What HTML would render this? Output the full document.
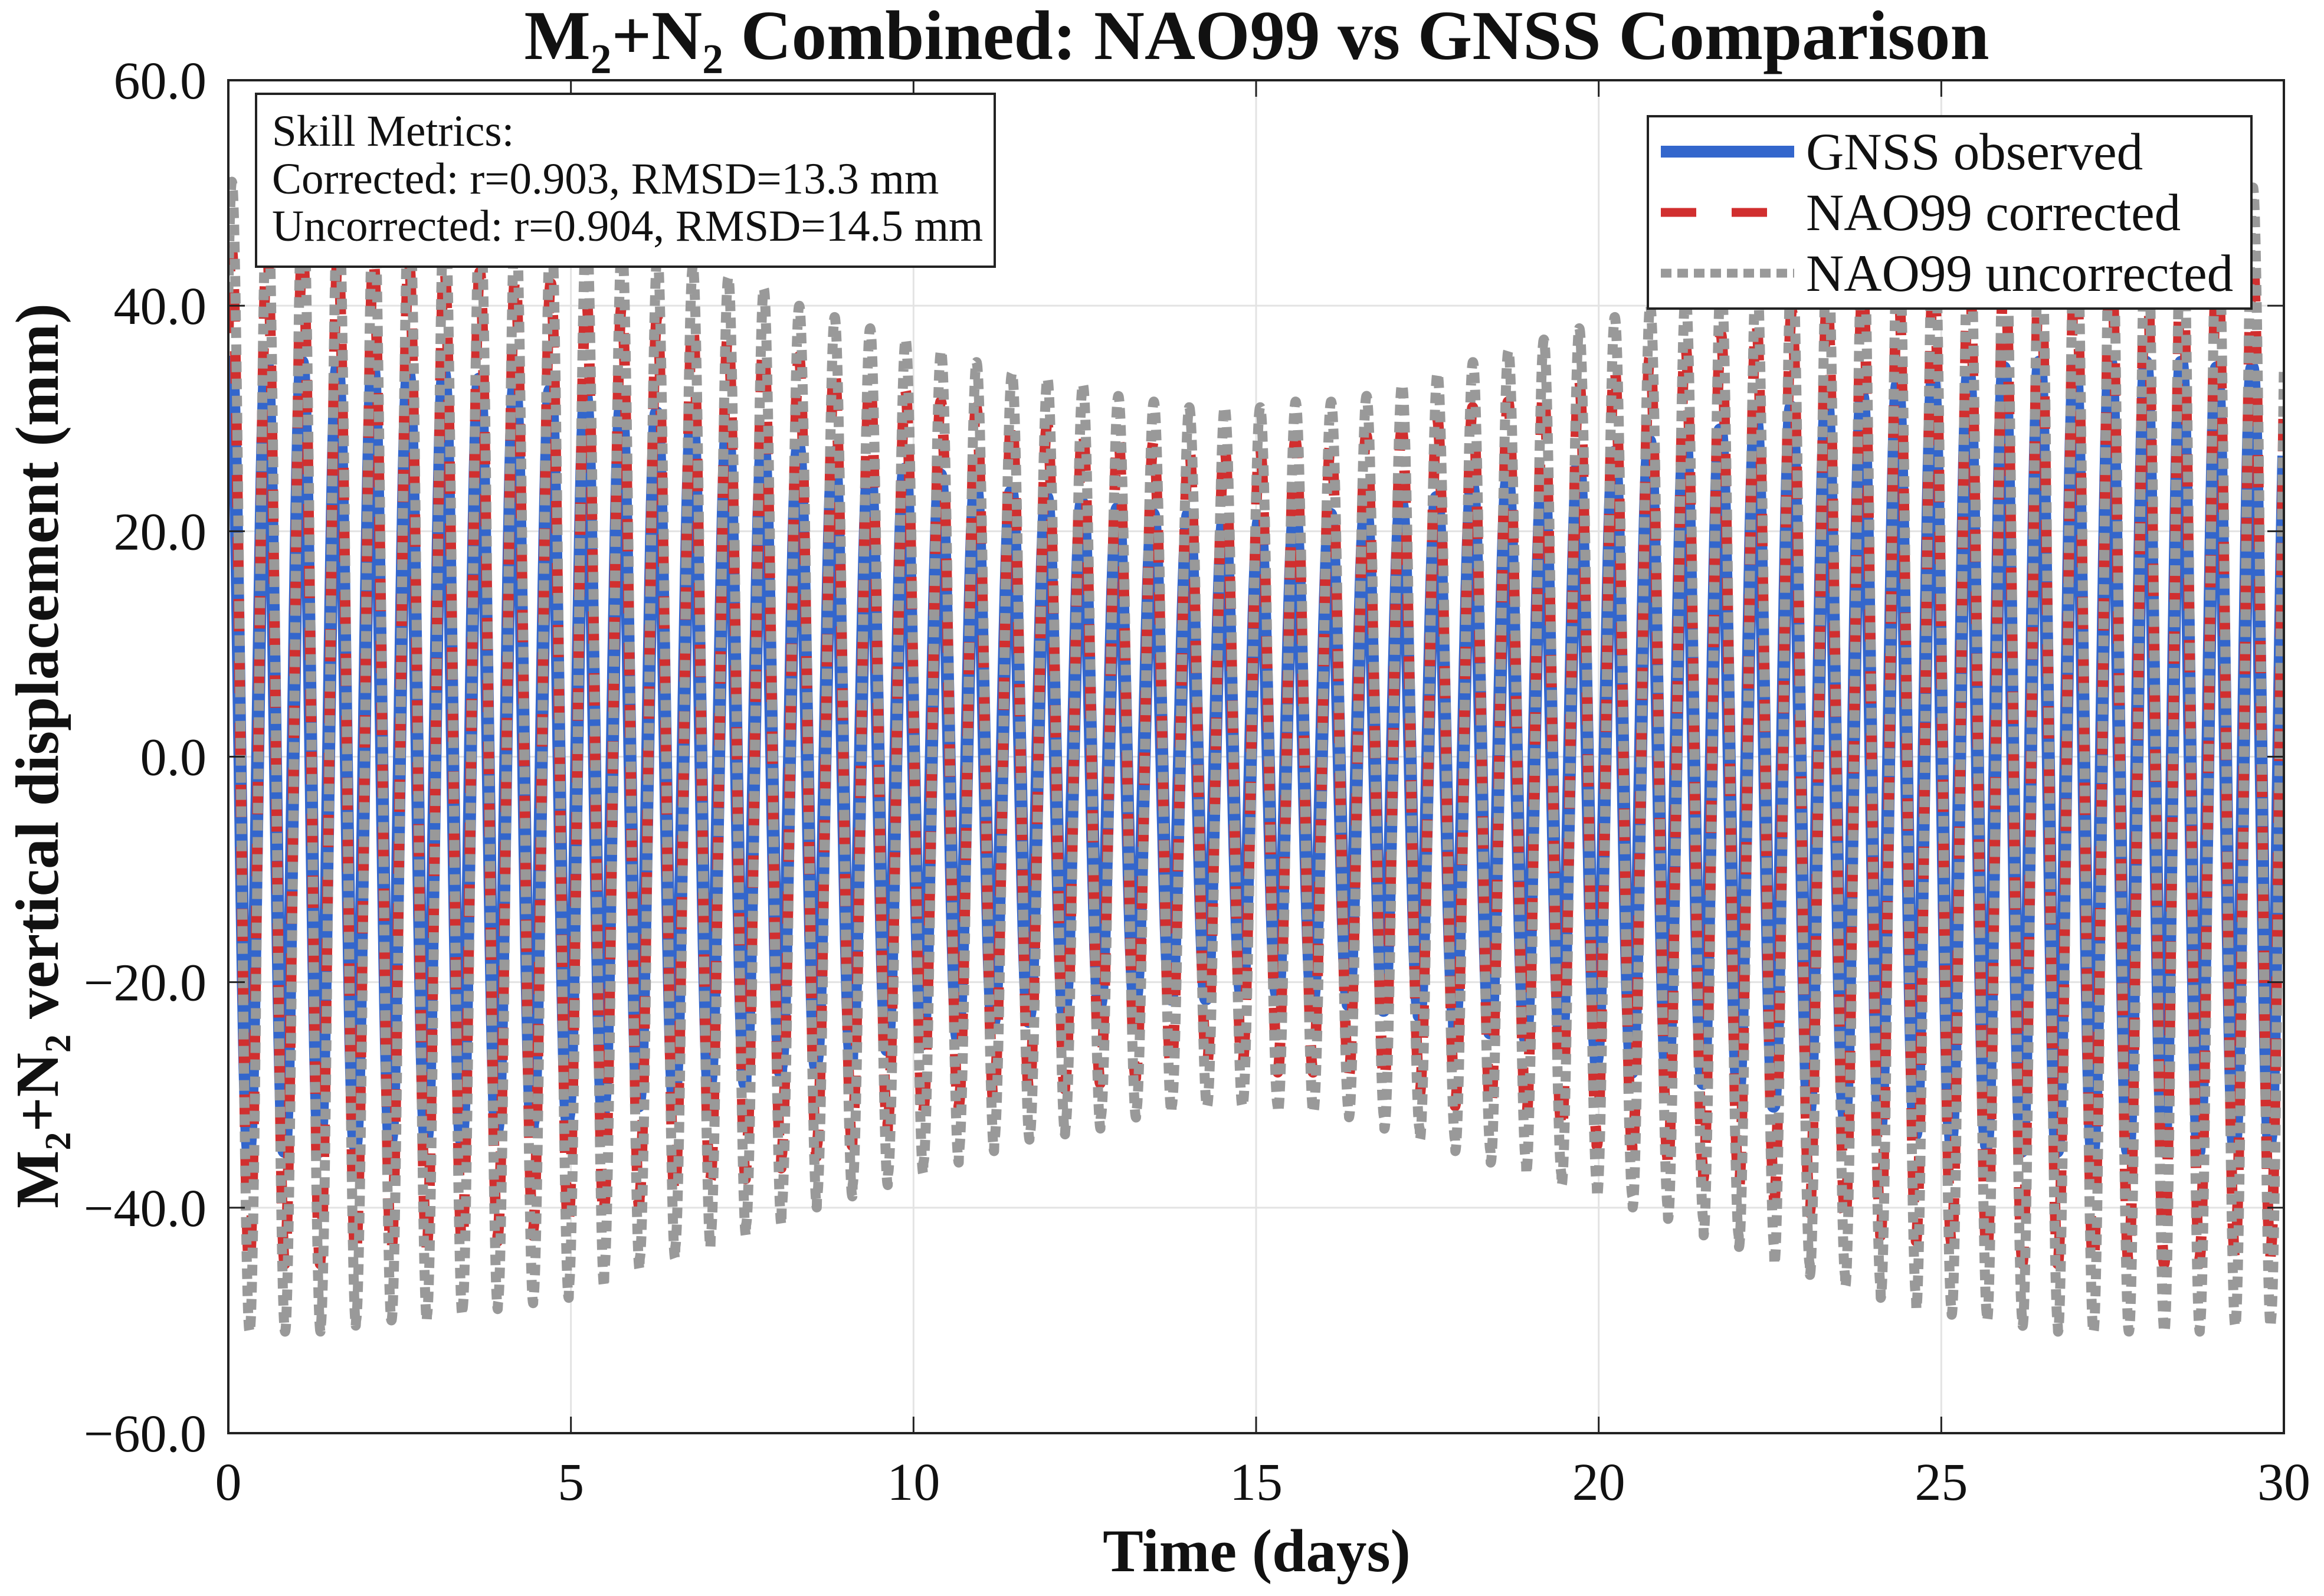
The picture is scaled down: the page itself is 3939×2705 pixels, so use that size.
<!DOCTYPE html>
<html><head><meta charset="utf-8"><style>
html,body{margin:0;padding:0;background:#fff}
svg text{font-family:"Liberation Serif",serif;fill:#111}
</style></head><body>
<svg id="chart" xmlns="http://www.w3.org/2000/svg" width="3939" height="2700" viewBox="0 0 3939 2700">
<rect width="3939" height="2700" fill="#fff"/>
<g id="grid"></g>
<defs><clipPath id="clip"><rect x="387" y="136" width="3484" height="2293"/></clipPath></defs>
<g id="series" clip-path="url(#clip)"></g>
<rect x="387" y="136" width="3484" height="2293" fill="none" stroke="#222" stroke-width="4"/>
<g id="ticks"></g>
<text x="2130" y="100" font-size="119" font-weight="bold" text-anchor="middle">M₂+N₂ Combined: NAO99 vs GNSS Comparison</text>
<text x="2130" y="2663" font-size="103" font-weight="bold" text-anchor="middle">Time (days)</text>
<text transform="translate(98,1281) rotate(-90)" font-size="104" font-weight="bold" text-anchor="middle">M₂+N₂ vertical displacement (mm)</text>
<g>
<rect x="434" y="159" width="1252" height="293" fill="#fff" stroke="#222" stroke-width="4"/>
<text x="461" y="247" font-size="75">Skill Metrics:</text>
<text x="461" y="328" font-size="75">Corrected: r=0.903, RMSD=13.3 mm</text>
<text x="461" y="408" font-size="75">Uncorrected: r=0.904, RMSD=14.5 mm</text>
</g>
<g>
<rect x="2793" y="197" width="1023" height="326" fill="#fff" stroke="#222" stroke-width="4"/>
<line x1="2815" y1="257" x2="3041" y2="257" stroke="#3366cc" stroke-width="20"/>
<text x="3061" y="287" font-size="89">GNSS observed</text>
<line x1="2815" y1="360" x2="3041" y2="360" stroke="#d12f2f" stroke-width="15" stroke-dasharray="60,60"/>
<text x="3061" y="390" font-size="89">NAO99 corrected</text>
<line x1="2815" y1="463" x2="3041" y2="463" stroke="#999" stroke-width="15" stroke-dasharray="18,10"/>
<text x="3061" y="493" font-size="89">NAO99 uncorrected</text>
</g>
</svg>
<script>
// per-cycle semidiurnal amplitudes (mm)
const gnssAmp = [35,35,35,34.5,34.5,34,34,33.5,33,32.5,32,31,30.5,30,29,28,27.5,27,26,25.5,25,24,23.5,23,22.5,22,21.5,21.5,21,21,21.5,21.5,22,22.5,23,24,24.5,25,26,27,28,28.5,29,30,31,31.5,32,33,33.5,34,34.5,35,35,35,35,35,34.5,34.5,34];
const corrAmp = [45,45,45,44.5,44,44,43.5,43,42.5,42,41,40,39,38.5,37.5,36.5,35.5,34.5,33.5,32.5,31.5,31,30,29.5,29,28.5,28,27.5,27.5,27.5,28,28,28.5,29,30,31,31.5,32.5,33.5,34.5,35.5,36.5,37.5,38.5,39.5,40.5,41.5,42.5,43,44,44.5,45,45,45,45,45,44.5,44.5,44];
const uncAmp = [51,51,51,50.5,50,50,49.5,49,48.5,48,47,45.5,44.5,43.5,42.5,41.5,40,39,38,37,36,35,34,33.5,33,32,31.5,31,31,31,31.5,31.5,32,33,34,35,36,37,38,39,40,41,42.5,43.5,45,46,47,48,49,49.5,50,50.5,51,51,51,51,50.5,50.5,50];
const xTicks = [0,5,10,15,20,25,30];
const yTicks = [-60,-40,-20,0,20,40,60];
const yTickLabels = ["\u221260.0","\u221240.0","\u221220.0","0.0","20.0","40.0","60.0"];
const period = 0.5175, phase0 = 0.04;

const X0=387,X1=3871,Y0=2429,Y1=136;
const xs = t => X0 + (t-0)/(30-0)*(X1-X0);
const ys = v => Y0 - (v+60)/120*(Y0-Y1);
const NS="http://www.w3.org/2000/svg";
const grid=document.getElementById('grid'), ticks=document.getElementById('ticks'), series=document.getElementById('series');
function mk(tag,attrs,parent){const e=document.createElementNS(NS,tag);for(const k in attrs)e.setAttribute(k,attrs[k]);parent.appendChild(e);return e;}
xTicks.forEach(t=>{
  const g=mk('line',{x1:xs(t),x2:xs(t),y1:Y1,y2:Y0,stroke:'#e3e3e3','stroke-width':3},grid);
  
  
  mk('line',{x1:xs(t),x2:xs(t),y1:Y0,y2:Y0-28,stroke:'#222','stroke-width':3},ticks);
  mk('line',{x1:xs(t),x2:xs(t),y1:Y1,y2:Y1+28,stroke:'#222','stroke-width':3},ticks);
  const l=mk('text',{x:xs(t),y:2542,'font-size':90,'text-anchor':'middle'},ticks);
  l.textContent=t;
  
  
});
yTicks.forEach((v,i)=>{
  const g=mk('line',{x1:X0,x2:X1,y1:ys(v),y2:ys(v),stroke:'#e3e3e3','stroke-width':3},grid);
  
  
  mk('line',{x1:X0,x2:X0+28,y1:ys(v),y2:ys(v),stroke:'#222','stroke-width':3},ticks);
  mk('line',{x1:X1,x2:X1-28,y1:ys(v),y2:ys(v),stroke:'#222','stroke-width':3},ticks);
  const l=mk('text',{x:350,y:ys(v)+31,'font-size':90,'text-anchor':'end'},ticks);
  l.textContent=yTickLabels[i];
  
  
});
function draw(amps,shift,color,width,dash,name){
  let d='';
  for(let t=0;t<=30.0001;t+=0.004){
    const c=(t-phase0-shift)/period;
    let k=Math.round(c); if(k<0)k=0; if(k>=amps.length)k=amps.length-1;
    const v=amps[k]*Math.cos(2*Math.PI*c);
    d+=(d?'L':'M')+xs(t).toFixed(1)+','+ys(v).toFixed(1);
  }
  const p=mk('path',{d:d,fill:'none',stroke:color,'stroke-width':width,'stroke-linejoin':'round'},series);
  if(dash)p.setAttribute('stroke-dasharray',dash);
  
  
}
draw(gnssAmp,0,'#3366cc',22,null,'gnss-observed-line');
draw(corrAmp,0.008,'#d12f2f',18,'55,50','nao99-corrected-line');
draw(uncAmp,0.012,'#999999',17,'18,11','nao99-uncorrected-line');
</script>
</body></html>
